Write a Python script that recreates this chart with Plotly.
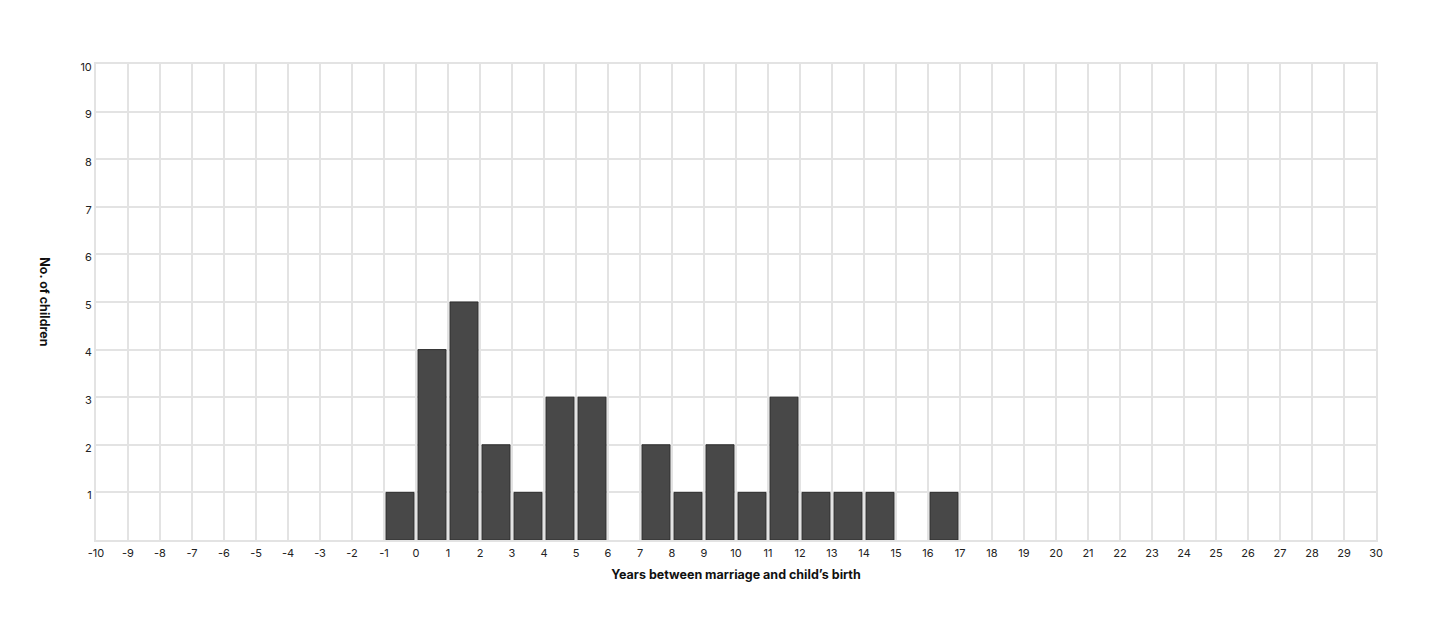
import plotly.graph_objects as go

# year bins (start of each one-year interval) and number of children
years = [-1, 0, 1, 2, 3, 4, 5, 6, 7, 8, 9, 10, 11, 12, 13, 14, 15, 16]
children = [1, 4, 5, 2, 1, 3, 3, 0, 2, 1, 2, 1, 3, 1, 1, 1, 0, 1]

x_ticks = list(range(-10, 31))
y_ticks = list(range(1, 11))

grid = "#e3e3e3"
font = "Inter, 'Open Sans', sans-serif"

fig = go.Figure()
fig.add_trace(
    go.Bar(
        x=years,
        y=children,
        width=0.875,
        offset=0.0625,
        marker=dict(
            color="#484848",
            line=dict(color="#2e2e2e", width=[1 if c else 0 for c in children]),
        ),
        hoverinfo="x+y",
    )
)

# the page body adds 8px around the figure, so margins are trimmed by that
fig.layout.update(
    width=1440,
    height=628,
    paper_bgcolor="white",
    plot_bgcolor="white",
    showlegend=False,
    margin=dict(l=88, r=72, t=56, b=96),
    font=dict(family=font, size=11, color="#222"),
)
fig.layout.xaxis.update(
    range=[-10, 30],
    tickvals=x_ticks,
    ticktext=[str(v) for v in x_ticks],
    showgrid=True,
    gridcolor=grid,
    gridwidth=1.5,
    zeroline=False,
    showline=True,
    linecolor=grid,
    linewidth=2,
    mirror=True,
    ticks="",
    ticklabelstandoff=2,
    tickfont=dict(size=11, color="#222"),
    title=dict(
        text="<b>Years between marriage and child’s birth</b>",
        font=dict(size=12.5, color="#111"),
        standoff=11,
    ),
)
fig.layout.yaxis.update(
    range=[0, 10],
    tickvals=y_ticks,
    showgrid=True,
    gridcolor=grid,
    gridwidth=1.5,
    zeroline=False,
    showline=True,
    linecolor=grid,
    linewidth=2,
    mirror=True,
    ticks="",
    ticklabelshift=3,
    ticklabelstandoff=0,
    tickfont=dict(size=11, color="#222"),
)
fig.add_annotation(
    text="<b>No. of children</b>",
    textangle=90,
    xref="paper",
    yref="paper",
    x=-0.04,
    y=0.5,
    xanchor="center",
    yanchor="middle",
    showarrow=False,
    font=dict(size=12.5, color="#111"),
)

fig.write_html("out.html")
